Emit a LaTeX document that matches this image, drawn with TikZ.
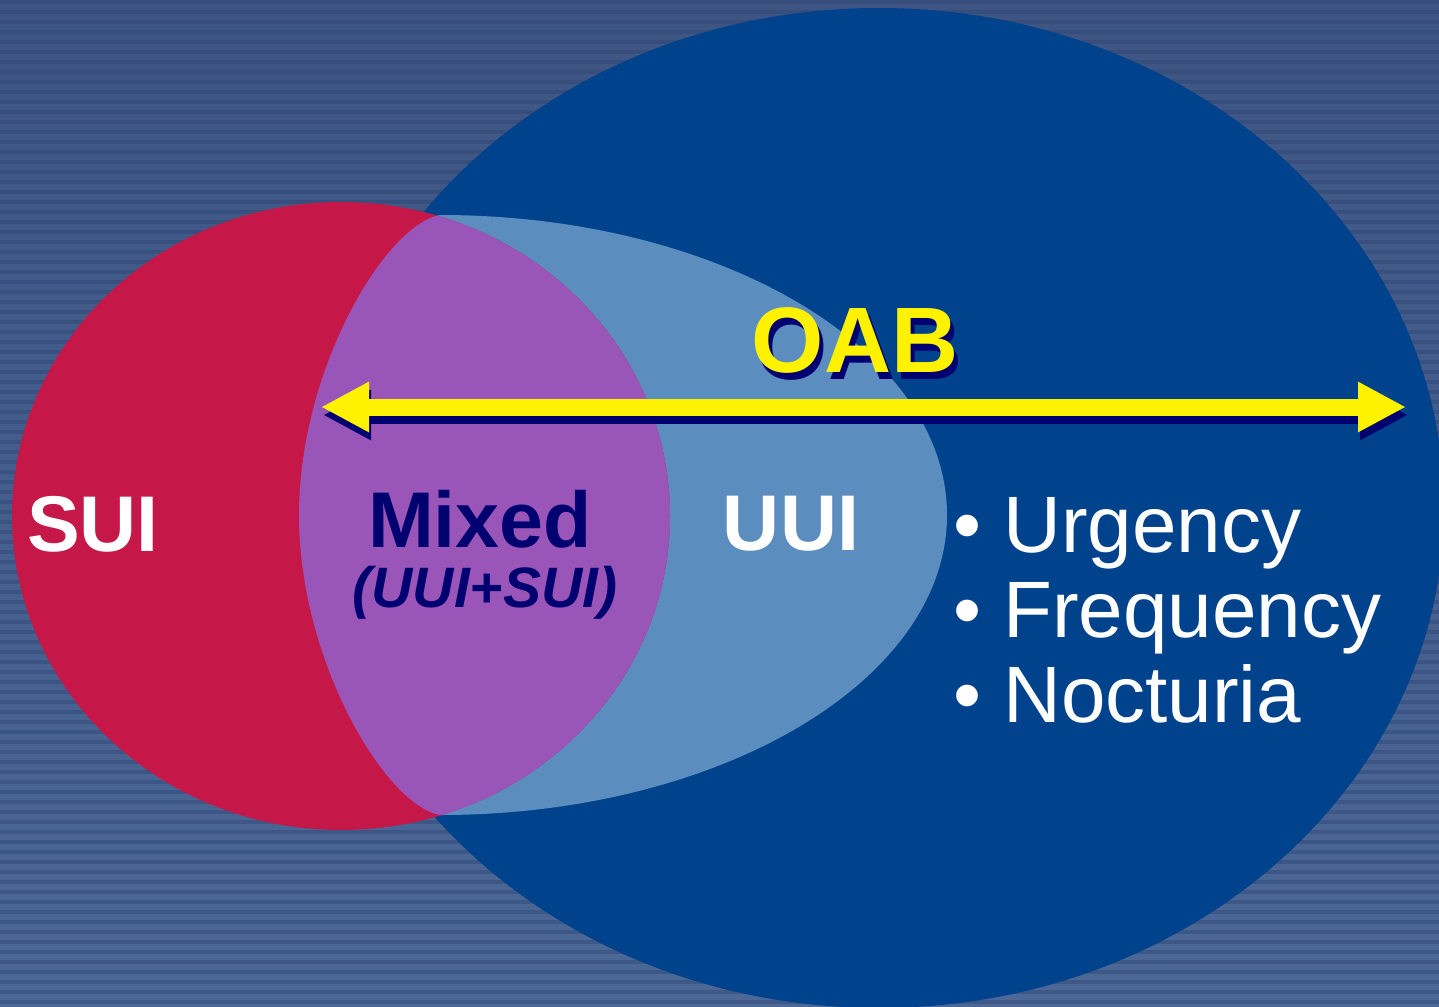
\documentclass[tikz,border=0pt]{standalone}
\usepackage{fontspec}
\setmainfont{Liberation Sans}
\usetikzlibrary{arrows.meta, positioning, calc}

\definecolor{bgtop}{HTML}{3E5583}
\definecolor{bgbot}{HTML}{4B6897}
\definecolor{stripe}{HTML}{2F4574}
\definecolor{oabblue}{HTML}{00438C}
\definecolor{suired}{HTML}{C61848}
\definecolor{mixpurple}{HTML}{9A55B8}
\definecolor{uuiblue}{HTML}{5B8DBE}
\definecolor{navy}{HTML}{000070}

\begin{document}
\begin{tikzpicture}[
  x=1pt, y=-1pt,
  bigtext/.style  = {font=\bfseries\fontsize{79}{79}\selectfont, anchor=base, inner sep=0pt},
  subtext/.style  = {font=\bfseries\itshape\fontsize{57}{57}\selectfont, anchor=base, inner sep=0pt},
  oabtext/.style  = {font=\bfseries\fontsize{93}{93}\selectfont, anchor=base, inner sep=0pt},
  listitem/.style = {text=white, font=\fontsize{80}{80}\selectfont, anchor=base west, inner sep=0pt},
  oabarrow/.style = {line width=17pt, {Triangle[length=48pt, width=47pt]}-{Triangle[length=48pt, width=47pt]}}
]

  % Striped background
  \useasboundingbox (0,0) rectangle (1439,1006);
  \clip (0,0) rectangle (1439,1006);
  \shade[top color=bgtop, bottom color=bgbot] (0,0) rectangle (1439,1006);
  \foreach \y in {0,10,...,1000}
    \fill[stripe, opacity=0.45] (0,\y) rectangle (1439,\y+4);

  % OAB ellipse
  \fill[oabblue] (879,508) ellipse [x radius=565, y radius=500];

  % UUI region
  \fill[uuiblue] (440,215) arc[start angle=-90, end angle=90, x radius=507, y radius=300]
    .. controls (385,805) and (299,660) .. (299,515)
    .. controls (299,370) and (385,225) .. (440,215) -- cycle;

  % SUI ellipse
  \fill[suired] (341,516) ellipse [x radius=329, y radius=314];

  % Mixed region: SUI inside UUI
  \begin{scope}
    \clip (440,215) arc[start angle=-90, end angle=90, x radius=507, y radius=300]
      .. controls (385,805) and (299,660) .. (299,515)
      .. controls (299,370) and (385,225) .. (440,215) -- cycle;
    \fill[mixpurple] (341,516) ellipse [x radius=329, y radius=314];
  \end{scope}

  % Labels
  \node[bigtext, text=white] (sui) at (93,551) {SUI};
  \node[bigtext, text=navy] (mixed) at (480,547) {Mixed};
  \node[subtext, text=navy] (mixsub) at (485,607) {(UUI+SUI)};
  \node[bigtext, text=white] (uui) at (791,550) {UUI};

  % OAB arrow with shadow
  \coordinate (oabL) at (321,407);
  \coordinate (oabR) at (1406,407);
  \draw[oabarrow, navy] ([shift={(2,8)}]oabL) -- ([shift={(2,8)}]oabR);
  \draw[oabarrow, yellow] (oabL) -- (oabR);

  \node[oabtext, text=yellow] (oab) at (855,372)
    {\rlap{\hspace{4pt}\raisebox{-7pt}{\color{navy}OAB}}OAB};

  % Symptom list
  \node[listitem] (urg) at (953,552) {• Urgency};
  \node[listitem] (freq) at ($(urg.base west)+(0,85)$) {• Frequency};
  \node[listitem] (noct) at ($(freq.base west)+(0,85)$) {• Nocturia};

\end{tikzpicture}
\end{document}
